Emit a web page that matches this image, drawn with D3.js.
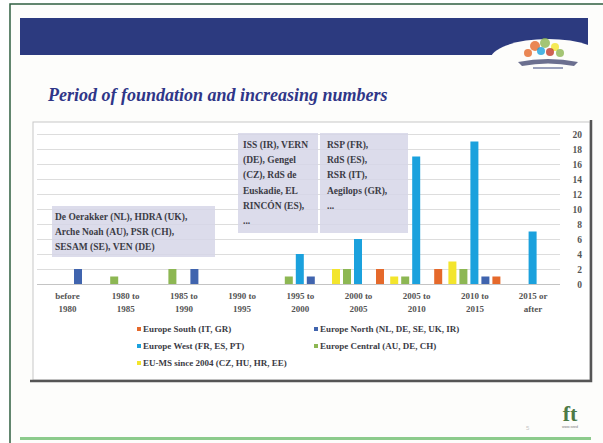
<!DOCTYPE html>
<html>
<head>
<meta charset="utf-8">
<style>
body { margin: 0; background: #ffffff; }
svg { display: block; }
.tick-lab, .cat-lab, .leg-lab, .note {
  font-family: "Liberation Serif", serif;
  font-weight: bold;
}
</style>
</head>
<body>
<svg width="603" height="443" id="slide"></svg>
<script src="https://cdn.jsdelivr.net/npm/d3@7/dist/d3.min.js"></script>
<script>
// categories and series
var categories = ["before 1980", "1980 to 1985", "1985 to 1990", "1990 to 1995", "1995 to 2000",
                  "2000 to 2005", "2005 to 2010", "2010 to 2015", "2015 or after"];
// order of bars inside a cluster
var seriesNames = ["EU-MS since 2004 (CZ, HU, HR, EE)", "Europe Central (AU, DE, CH)",
                   "Europe West (FR, ES, PT)", "Europe North (NL, DE, SE, UK, IR)", "Europe South (IT, GR)"];
var euMs    = [0, 0, 0, 0, 0, 2, 1, 3, 0];
var central = [0, 1, 2, 0, 1, 2, 1, 2, 0];
var west    = [0, 0, 0, 0, 4, 6, 17, 19, 7];
var north   = [2, 0, 2, 0, 1, 0, 0, 1, 0];
var south   = [0, 0, 0, 0, 0, 2, 2, 1, 0];
var seriesColors = ["#f3e52c", "#8db753", "#1ba1dd", "#4064ae", "#e5692b"];
// legend is laid out in two columns like the original
var legendOrder = ["Europe South (IT, GR)", "Europe North (NL, DE, SE, UK, IR)",
                   "Europe West (FR, ES, PT)", "Europe Central (AU, DE, CH)",
                   "EU-MS since 2004 (CZ, HU, HR, EE)"];
var yTicks = [0, 2, 4, 6, 8, 10, 12, 14, 16, 18, 20];

var notes = [
  ["De Oerakker (NL), HDRA (UK),", "Arche Noah (AU), PSR (CH),", "SESAM (SE), VEN (DE)"],
  ["ISS (IR), VERN", "(DE), Gengel", "(CZ), RdS de", "Euskadie, EL", "RINCÓN (ES),", "..."],
  ["RSP (FR),", "RdS (ES),", "RSR (IT),", "Aegilops (GR),", "..."]
];

var values = [euMs, central, west, north, south];
var rows = [];
categories.forEach(function(c, i) {
  seriesNames.forEach(function(s, j) {
    rows.push({cat: c, series: s, value: values[j][i]});
  });
});

var svg = d3.select("#slide");

// slide frame
svg.append("rect").attr("x", 10).attr("y", 4).attr("width", 600).attr("height", 450)
    .attr("fill", "#fdfdfb").attr("stroke", "#2f5f40").attr("stroke-width", 1.5);
svg.append("rect").attr("x", 20).attr("y", 18).attr("width", 568).attr("height", 37)
    .attr("fill", "#2c3a7f");
// logo blob
svg.append("ellipse").attr("cx", 548).attr("cy", 60).attr("rx", 58).attr("ry", 21)
    .attr("fill", "#fdfdfb");
var logo = svg.append("g");
[["#e5692b", 535, 46, 5], ["#8db753", 545, 43, 5], ["#f3e52c", 555, 47, 4], ["#1ba1dd", 541, 51, 4],
 ["#c0392b", 550, 52, 4], ["#8db753", 560, 53, 4], ["#e5692b", 528, 53, 4]].forEach(function(d) {
  logo.append("circle").attr("cx", d[1]).attr("cy", d[2]).attr("r", d[3]).attr("fill", d[0]).attr("opacity", 0.8);
});
svg.append("path").attr("d", "M518,62 Q548,56 578,62 L574,66 Q548,61 522,66 Z").attr("fill", "#6b6f8f");
svg.append("rect").attr("x", 533).attr("y", 67).attr("width", 30).attr("height", 2).attr("fill", "#9aa0bb");

svg.append("text").attr("x", 48).attr("y", 101)
    .attr("font-family", "Liberation Serif, serif").attr("font-size", 18)
    .attr("font-style", "italic").attr("font-weight", "bold").attr("fill", "#2f3688")
    .text("Period of foundation and increasing numbers");

// chart box
svg.append("rect").attr("x", 33).attr("y", 122).attr("width", 557).attr("height", 258)
    .attr("fill", "#ffffff").attr("stroke", "#c8c8c8").attr("stroke-width", 1);
svg.append("path").attr("d", "M30,381 L591,381 L591,120")
    .attr("fill", "none").attr("stroke", "#555555").attr("stroke-width", 2.5);

var x0 = d3.scaleBand().domain(categories).range([37.4, 561.2]);
var x1 = d3.scaleBand().domain(seriesNames).range([0, 55]);
var color = d3.scaleOrdinal().domain(seriesNames).range(seriesColors);
var y = d3.scaleLinear().domain([0, 20]).range([284, 134]);

// grid
svg.append("g").selectAll("line").data(yTicks).enter().append("line")
    .attr("x1", 37).attr("x2", 560)
    .attr("y1", function(d) { return y(d) + 0.5; }).attr("y2", function(d) { return y(d) + 0.5; })
    .attr("stroke", function(d) { return d === 0 ? "#c4c4c4" : "#dddddd"; }).attr("stroke-width", 1);

// annotation boxes
var noteBoxes = [
  {x: 52, y: 206, w: 163, h: 51, lines: notes[0], tx: 55, ty: 220},
  {x: 238, y: 133, w: 80, h: 100, lines: notes[1], tx: 243, ty: 148},
  {x: 320, y: 133, w: 88, h: 100, lines: notes[2], tx: 327, ty: 148}
];
noteBoxes.forEach(function(b) {
  svg.append("rect").attr("x", b.x).attr("y", b.y).attr("width", b.w).attr("height", b.h)
      .attr("fill", "#d6d6e8").attr("opacity", 0.85);
  svg.append("g").selectAll("text").data(b.lines).enter().append("text")
      .attr("class", "note").attr("font-size", 9.5).attr("fill", "#3b3b45")
      .attr("x", b.tx).attr("y", function(d, i) { return b.ty + i * 15.2; })
      .text(function(d) { return d; });
});

// bars
svg.append("g").selectAll("rect").data(rows.filter(function(d) { return d.value > 0; }))
  .enter().append("rect")
    .attr("x", function(d) { return x0(d.cat) + x0.bandwidth() / 2 - 27 + x1(d.series) + 1.5; })
    .attr("y", function(d) { return y(d.value); })
    .attr("width", 8)
    .attr("height", function(d) { return y(0) - y(d.value); })
    .attr("fill", function(d) { return color(d.series); });

// right hand value labels
svg.append("g").selectAll("text").data(yTicks).enter().append("text")
    .attr("class", "tick-lab").attr("font-size", 9.5).attr("fill", "#555555")
    .attr("text-anchor", "end").attr("x", 582)
    .attr("y", function(d) { return y(d) + 3.5; })
    .text(function(d) { return d; });

// category labels, two lines
var catG = svg.append("g").selectAll("text").data(categories).enter().append("text")
    .attr("class", "cat-lab").attr("font-size", 9).attr("fill", "#555555")
    .attr("text-anchor", "middle");
catG.each(function(d) {
  var k = d.lastIndexOf(" ");
  var parts = d.indexOf("before") === 0 ? ["before", "1980"] : [d.slice(0, k), d.slice(k + 1)];
  if (d === "2015 or after") parts = ["2015 or", "after"];
  var t = d3.select(this);
  var cx = x0(d) + x0.bandwidth() / 2 + 1;
  parts.forEach(function(p, i) {
    t.append("tspan").attr("x", cx).attr("y", 299 + i * 13).text(p);
  });
});

// legend
var legend = svg.append("g").selectAll("g").data(legendOrder).enter().append("g")
    .attr("transform", function(d, i) {
      return "translate(" + (i % 2 === 0 ? 137 : 314) + "," + (332 + Math.floor(i / 2) * 17) + ")";
    });
legend.append("rect").attr("x", 0).attr("y", -5).attr("width", 4).attr("height", 4)
    .attr("fill", function(d) { return color(d); });
legend.append("text").attr("class", "leg-lab").attr("x", 6).attr("y", 0)
    .attr("font-size", 9).attr("fill", "#3b3b45")
    .text(function(d) { return d; });

// footer
svg.append("rect").attr("x", 20).attr("y", 437).attr("width", 571).attr("height", 3).attr("fill", "#8ccb8c");
svg.append("text").attr("x", 526).attr("y", 430).attr("font-size", 6).attr("fill", "#c8c8c8")
    .attr("font-family", "Liberation Sans, sans-serif").text("5");
svg.append("text").attr("x", 570).attr("y", 421).attr("text-anchor", "middle")
    .attr("font-family", "Liberation Serif, serif").attr("font-weight", "bold").attr("font-size", 22)
    .attr("fill", "#4d7a45").text("ft");
svg.append("text").attr("x", 570).attr("y", 428).attr("text-anchor", "middle")
    .attr("font-family", "Liberation Sans, sans-serif").attr("font-size", 3.5)
    .attr("fill", "#777777").text("www.seed");
</script>
</body>
</html>
